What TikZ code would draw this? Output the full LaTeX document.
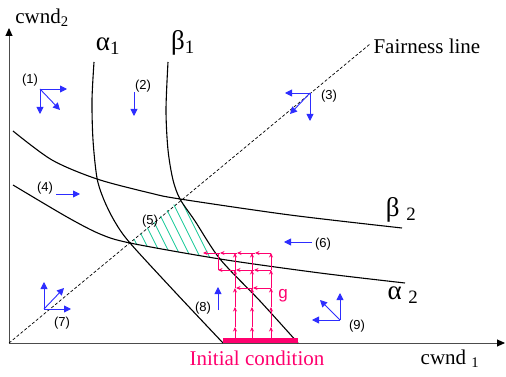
\documentclass[tikz,border=0pt]{standalone}
\usepackage{fontspec}
\setmainfont{Liberation Serif}
\newfontfamily\labfont{Liberation Sans}
\usetikzlibrary{arrows.meta}
\definecolor{flowblue}{RGB}{45,45,255}
\definecolor{tracepink}{RGB}{255,0,110}
\definecolor{hatchgreen}{RGB}{20,200,150}

\begin{document}
\begin{tikzpicture}[x=1pt, y=-1pt, >=Stealth,
    axis/.style={black!70, line width=0.9pt, -{Triangle[black, length=8pt, width=7pt]}},
    curve/.style={line width=1.1pt},
    flow/.style={flowblue, line width=0.9pt, -{Triangle[length=7pt, width=7pt]}},
    flowlbl/.style={font=\labfont\fontsize{13}{14}\selectfont},
    bigtext/.style={font=\fontsize{21}{22}\selectfont},
    greek/.style={font=\fontsize{27}{28}\selectfont},
    trace/.style={tracepink, line width=0.8pt, -{Stealth[length=4.5pt, width=4pt]}}]
  \useasboundingbox (0,0) rectangle (506,377);
  % ── Axes and fairness line ───────────────────────────────────
  \coordinate (O) at (9,343);
  \coordinate (ytop) at (9,28);
  \coordinate (xend) at (505,343);
  \draw[axis] (O) -- (ytop);
  \draw[axis] (O) -- (xend);
  \coordinate (fairend) at (370,44);
  \draw[dash pattern=on 3pt off 2pt, line width=0.7pt] (O) -- (fairend);
  \node[right, bigtext] (fair) at (370,46) {Fairness line};
  \node[bigtext] (ylab) at (42,18) {cwnd\textsubscript{2}};
  \node[bigtext] (xlab) at (450,359) {cwnd \textsubscript{1}};
  % ── Hatched region (5) ────────────────────────────────────────
  \begin{scope}
    \clip (130,243) -- (180,199) -- (195,221) -- (207,240) -- (220,259) -- (175,251) -- cycle;
    \foreach \x in {100,109.5,...,240}
      \draw[hatchgreen, line width=0.8pt] (\x,190) -- ++(36,72);
  \end{scope}
  % ── Curves ────────────────────────────────────────────────────
  \draw[curve] plot[smooth, tension=0.5] coordinates
    {(94,62) (92,100) (93,140) (97,178) (104,200) (115,222) (130,243) (175,292) (223,343)};
  \draw[curve] plot[smooth, tension=0.5] coordinates
    {(168,62) (166,110) (168,150) (173,180) (180,199) (195,221) (220,259) (260,301) (298,343)};
  \draw[curve] plot[smooth, tension=0.5] coordinates
    {(13,131) (52,160) (97,179) (150,193) (180,199) (290,215) (402,228)};
  \draw[curve] plot[smooth, tension=0.5] coordinates
    {(13,185) (67,217) (100,234) (130,243) (220,259) (320,273) (405,283)};
  \node[greek] (alone) at (108,46) {α\textsubscript{1}};
  \node[greek] (beone) at (183,43) {β\textsubscript{1}};
  \node[greek] (betwo) at (401,210) {β \textsubscript{2}};
  \node[greek] (altwo) at (403,295) {α \textsubscript{2}};
  % ── Initial condition and trajectory ─────────────────────────
  \draw[tracepink, line width=5pt] (223,340.5) -- (298,340.5);
  \node[tracepink, bigtext] (init) at (257,358) {Initial condition};
  \foreach \x in {235,252,271} {
    \foreach \ya/\yb in {343/327, 327/307, 307/288, 288/270, 270/253}
      \draw[trace] (\x,\ya) -- (\x,\yb);
  }
  \foreach \xa/\xb in {271/255, 255/237, 237/220, 220/203}
    \draw[trace] (\xa,253) -- (\xb,253);
  \foreach \xa/\xb in {271/254, 254/236, 236/218}
    \draw[trace] (\xa,270) -- (\xb,270);
  \foreach \xa/\xb in {271/253, 253/236}
    \draw[trace] (\xa,288) -- (\xb,288);
  \draw[tracepink, line width=0.8pt] (218,270) -- (218,253);
  \node[tracepink, font=\labfont\fontsize{17}{18}\selectfont] (glab) at (283,296) {g};
  % ── Direction arrows ─────────────────────────────────────────
  \coordinate (pone) at (40,89);
  \draw[flow] (pone) -- ++(27,0);
  \draw[flow] (pone) -- ++(0,25);
  \draw[flow] (pone) -- ++(20,21);
  \draw[flow] (134,92) -- (134,116);
  \coordinate (pthree) at (310,93);
  \draw[flow] (pthree) -- ++(-25,0);
  \draw[flow] (pthree) -- ++(0,28);
  \draw[flow] (pthree) -- ++(-20,21);
  \draw[flow] (56,194) -- (80,194);
  \draw[flow] (312,242) -- (284,242);
  \coordinate (pseven) at (44,309);
  \draw[flow] (pseven) -- ++(0,-27);
  \draw[flow] (pseven) -- ++(27,0);
  \draw[flow] (pseven) -- ++(20,-21);
  \draw[flow] (218,310) -- (218,287);
  \coordinate (pnine) at (340,320);
  \draw[flow] (pnine) -- ++(0,-27);
  \draw[flow] (pnine) -- ++(-28,0);
  \draw[flow] (pnine) -- ++(-20,-20);
  \foreach \n/\x/\y in {1/30/80, 2/143/86, 3/329/96, 4/45/188, 5/150/221,
                        6/323/244, 7/62/323, 8/203/308, 9/357/326}
    \node[flowlbl] (lbl\n) at (\x,\y) {(\n)};
\end{tikzpicture}
\end{document}
